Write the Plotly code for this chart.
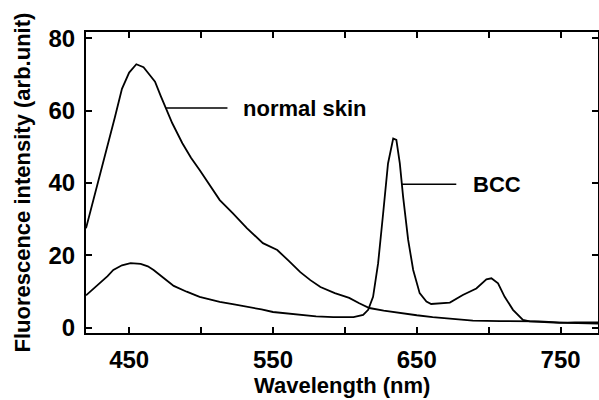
import plotly.graph_objects as go

# Normal skin spectrum
normal_wl = [420, 425, 430, 435, 440, 445, 450, 455, 460, 465, 468, 472, 476, 480, 487, 493, 499,
             506, 513, 522, 532, 543, 553, 561, 569, 576, 583, 593, 603, 610, 617, 627, 638, 650,
             661, 675, 689, 708, 735, 755, 776]
normal_int = [27.5, 35, 43, 50, 58, 66, 70.5, 72.8, 72, 69.5, 68, 64, 60, 56.5, 51, 47, 43.6,
              39.5, 35.3, 31.7, 27.5, 23.4, 21.5, 18.5, 15.4, 13.2, 11.3, 9.6, 8.3, 6.8, 5.5, 4.8, 4.1, 3.5,
              3.0, 2.5, 2.0, 1.9, 1.8, 1.4, 1.2]

# BCC spectrum
bcc_wl = [420, 425, 430, 435, 439, 445, 451, 458, 463, 467, 474, 481, 490, 499, 506, 513, 523, 534,
          542, 550, 560, 569, 580, 592, 606, 612.7, 616.2, 619.6, 623.1, 626.6, 630, 633.6, 635.8,
          638.2, 640.5, 644, 647.5, 652, 656.7, 660, 666, 673, 682, 691.4, 698.4, 701.9, 706.5,
          711.1, 716.9, 723.8, 728.5, 740, 749, 760, 776]
bcc_int = [9.0, 10.8, 12.4, 14.3, 16.0, 17.3, 17.9, 17.7, 17.0, 16.0, 13.8, 11.6, 10.0, 8.6, 7.9, 7.2,
           6.5, 5.8, 5.1, 4.4, 4.0, 3.6, 3.2, 3.0, 3.0, 3.6, 5.0, 8.6, 17.8, 31.6, 45.4, 52.3, 51.9,
           45.4, 36.2, 24.3, 16.0, 9.6, 7.3, 6.6, 6.8, 7.0, 9.1, 10.9, 13.4, 13.7, 12.3,
           8.6, 5.0, 2.2, 1.8, 1.5, 1.4, 1.5, 1.5]

x_tickvals = [450, 500, 550, 600, 650, 700, 750]
x_ticktext = ["450", "", "550", "", "650", "", "750"]
y_tickvals = [0, 20, 40, 60, 80]

x_title = "Wavelength (nm)"
y_title = "Fluorescence intensity (arb.unit)"

# Labels: (curve point x, y) -> (tail x, y), text
label_texts = ["normal skin", "BCC"]
label_point_x = [475.7, 639.6]
label_tail_x = [519.4, 678.5]
label_y = [60.7, 39.7]
label_text_x = [528.0, 688.0]

FONT = "Liberation Sans, Arial, sans-serif"

fig = go.Figure()
fig.add_trace(go.Scatter(x=normal_wl, y=normal_int, mode="lines",
                         line=dict(color="black", width=1.8), name="normal skin"))
fig.add_trace(go.Scatter(x=bcc_wl, y=bcc_int, mode="lines",
                         line=dict(color="black", width=1.8), name="BCC"))

for t, px, tx, ly, txx in zip(label_texts, label_point_x, label_tail_x, label_y, label_text_x):
    fig.add_annotation(x=px, y=ly, ax=tx, ay=ly, axref="x", ayref="y", xref="x", yref="y",
                       text="", showarrow=True, arrowhead=0, arrowwidth=1.5, arrowcolor="black",
                       standoff=0, startstandoff=0)
    fig.add_annotation(x=txx, y=ly, xref="x", yref="y", text=t, showarrow=False,
                       xanchor="left", yanchor="middle",
                       font=dict(family=FONT, size=22, color="black", weight="bold"))

# axis titles as annotations for exact placement
fig.add_annotation(x=0.5, y=0, xref="paper", yref="paper", text=x_title, showarrow=False,
                   xanchor="center", yanchor="middle", yshift=-52,
                   font=dict(family=FONT, size=22, color="black", weight="bold"))
fig.add_annotation(x=0, y=0.5, xref="paper", yref="paper", text=y_title, showarrow=False,
                   xanchor="center", yanchor="middle", xshift=-64, textangle=-90,
                   font=dict(family=FONT, size=22, color="black", weight="bold"))

fig.update_layout(
    width=599, height=400,
    margin=dict(l=86, r=1, t=32, b=67, autoexpand=False),
    paper_bgcolor="white", plot_bgcolor="white",
    showlegend=False,
    font=dict(family=FONT, color="black"),
)
fig.update_xaxes(
    range=[420, 776], tickvals=x_tickvals, ticktext=x_ticktext,
    ticks="inside", ticklen=6, tickwidth=2, tickcolor="black",
    showline=True, linewidth=2, linecolor="black", mirror="ticks",
    showgrid=False, zeroline=False, automargin=False,
    ticklabelstandoff=4,
    tickfont=dict(family=FONT, size=24, color="black", weight="bold"),
)
fig.update_yaxes(
    range=[-1.4, 81.7], tickvals=y_tickvals,
    ticks="inside", ticklen=6, tickwidth=2, tickcolor="black",
    showline=True, linewidth=2, linecolor="black", mirror="ticks",
    showgrid=False, zeroline=False, automargin=False,
    ticklabelstandoff=4,
    tickfont=dict(family=FONT, size=24, color="black", weight="bold"),
)

fig.write_html("out.html", config={"displayModeBar": False},
               post_script="document.body.style.margin='0';document.body.style.overflow='hidden';")
